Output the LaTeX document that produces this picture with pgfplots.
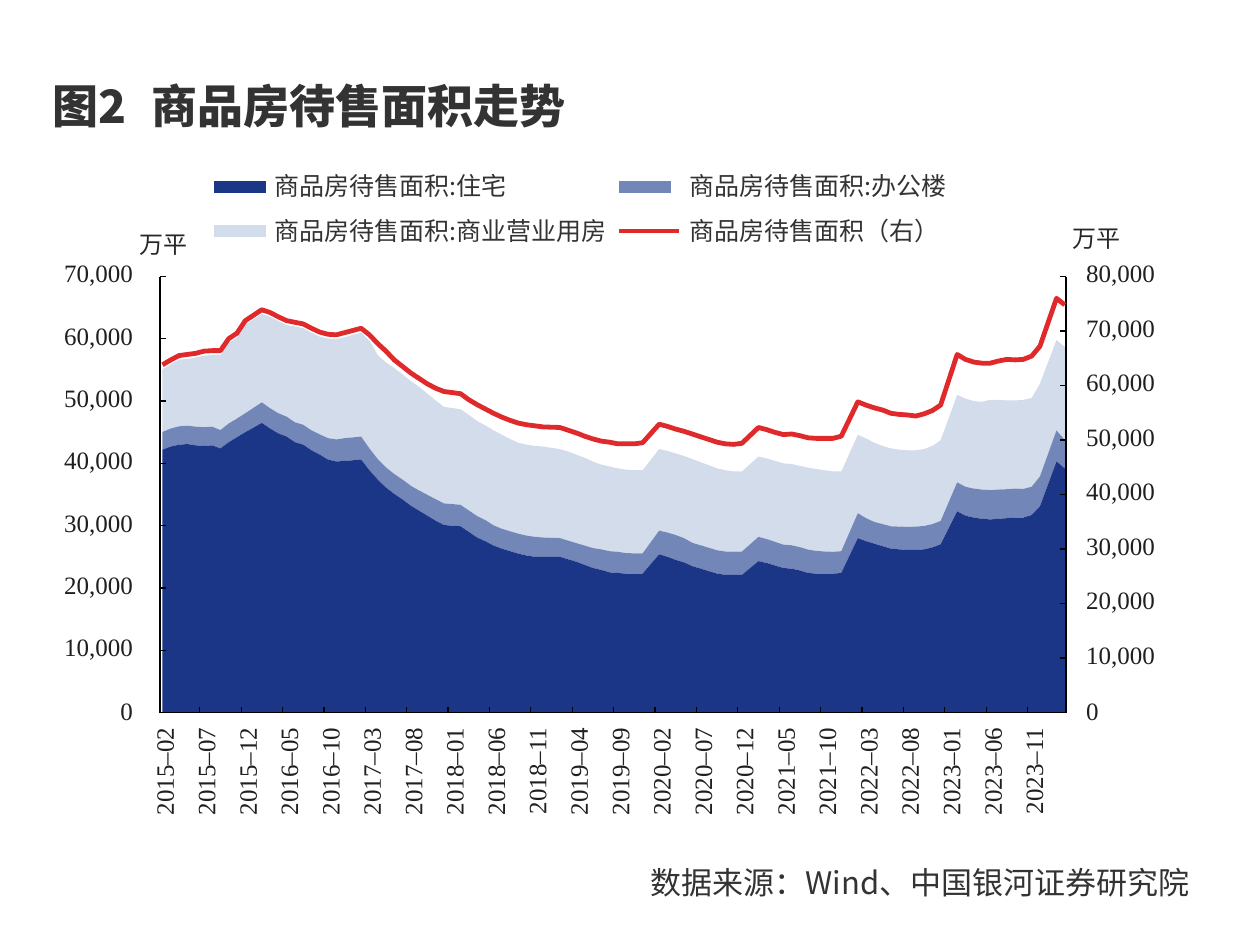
\documentclass[border=0pt]{standalone}
\usepackage{pgfplots}
\pgfplotsset{compat=1.18}
\usepackage{pgfplotstable}
\usepackage{fontspec}
\setmainfont{Liberation Serif}
\newfontfamily\cjk{Noto Sans CJK SC}
\definecolor{cRes}{HTML}{1B3587}
\definecolor{cOff}{HTML}{7286B8}
\definecolor{cCom}{HTML}{D3DCEB}
\definecolor{cTot}{HTML}{E0292A}
\definecolor{txt}{HTML}{333333}

\pgfplotstableread{
m res off com tot
0 42200 2850 10100 63800
1 42700 2900 10300 64700
2 43000 2950 10700 65500
3 43100 2950 10700 65700
4 42900 3000 11100 65900
5 42800 3000 11500 66300
6 42900 3000 11500 66400
7 42400 2950 12050 66400
8 43400 3000 12900 68600
9 44200 3000 13000 69600
10 45000 3050 14200 71900
12 46500 3300 14200 73900
13 45600 3250 14700 73400
14 44800 3250 14800 72600
15 44300 3200 14700 71900
16 43400 3200 15400 71600
17 43000 3200 15500 71300
18 42100 3200 15700 70500
19 41400 3250 15700 69800
20 40600 3450 16000 69400
21 40300 3550 16100 69300
22 40400 3650 16200 69700
24 40600 3700 16700 70500
25 38900 3500 17300 69300
26 37400 3300 16700 67700
27 36100 3250 16850 66300
28 35100 3200 17000 64700
29 34200 3200 16900 63500
30 33200 3200 16800 62300
31 32400 3250 16650 61300
32 31600 3350 16250 60300
33 30800 3450 15850 59500
34 30100 3480 15500 58900
36 29900 3450 15350 58500
37 29000 3450 15350 57400
38 28100 3450 15250 56500
39 27500 3400 15200 55700
40 26800 3250 15250 54900
41 26300 3200 15100 54200
42 25900 3200 14800 53600
43 25500 3200 14600 53100
44 25200 3200 14600 52800
45 25000 3200 14600 52600
46 25000 3100 14600 52400
48 25000 3000 14300 52300
49 24600 3000 14300 51800
50 24200 3000 14200 51300
51 23700 3100 14100 50700
52 23200 3200 13900 50200
53 22900 3300 13600 49800
54 22500 3400 13600 49600
55 22400 3400 13400 49300
56 22300 3300 13400 49300
57 22300 3250 13350 49300
58 22300 3250 13350 49500
60 25400 3800 13100 52900
61 25000 3900 13100 52500
62 24500 4000 13100 52000
63 24100 3900 13200 51600
64 23500 3750 13450 51100
65 23100 3750 13350 50600
66 22700 3750 13250 50100
67 22300 3750 13150 49600
68 22100 3750 13050 49300
69 22100 3750 12850 49200
70 22100 3750 12850 49400
72 24300 3900 12900 52300
73 24000 3850 12950 51900
74 23600 3800 13000 51400
75 23200 3750 13050 51000
76 23100 3750 13050 51100
77 22800 3750 13050 50800
78 22400 3750 13150 50400
79 22300 3650 13150 50300
80 22300 3550 13050 50300
81 22300 3500 12900 50300
82 22400 3500 12800 50700
84 28000 4000 12600 57000
85 27500 3700 12800 56400
86 27100 3500 12700 55900
87 26700 3550 12550 55500
88 26300 3600 12500 54900
89 26200 3650 12350 54700
90 26100 3700 12300 54600
91 26100 3750 12250 54400
92 26200 3750 12350 54800
93 26500 3750 12550 55400
94 27000 3750 12950 56400
96 32300 4650 14050 65700
97 31600 4650 14150 64800
98 31300 4650 14050 64300
99 31100 4700 14100 64100
100 31000 4700 14500 64100
101 31100 4700 14400 64500
102 31200 4650 14250 64800
103 31300 4650 14150 64700
104 31300 4600 14300 64800
105 31700 4550 14250 65400
106 33100 4800 14900 67200
108 40300 5000 14500 76000
109 39200 4550 14950 74800
}\datatab

\pgfplotsset{
  common/.style={
    at={(80pt,-356.25pt)}, anchor=south west,
    scale only axis, width=453pt, height=218pt,
    xmin=-0.3, xmax=109.15, ymin=0,
    major tick length=3pt,
    tick style={black, line width=0.6pt},
    scaled y ticks=false,
    /pgf/number format/1000 sep={,},
    /pgf/number format/assume math mode=true,
    ticklabel style={font=\fontsize{12.5}{14}\selectfont, text=black!88},
  },
  nolinearrows/.style={
    axis line style={-, line width=0.7pt, black},
    every outer x axis line/.append style={-},
    every outer y axis line/.append style={-},
    every inner x axis line/.append style={-},
    every inner y axis line/.append style={-},
    tick align=inside,
  }
}

\begin{document}
\begin{tikzpicture}
\path[use as bounding box] (0pt,0pt) rectangle (622pt,-463pt);

\node[anchor=west, inner sep=0pt, text=txt, font={\cjk\bfseries\fontsize{23}{26}\selectfont}] at (26pt,-53pt) {图2\hspace{0.55em}商品房待售面积走势};

\node[anchor=east, inner sep=0pt, text=txt, font={\cjk\fontsize{15.5}{18}\selectfont}] at (595pt,-441.5pt) {数据来源：Wind、中国银河证券研究院};

\node[inner sep=0pt, text=black!85, font={\cjk\fontsize{12}{14}\selectfont}] at (81.5pt,-122.5pt) {万平};
\node[inner sep=0pt, text=black!85, font={\cjk\fontsize{12}{14}\selectfont}] at (548pt,-119.5pt) {万平};

\begin{axis}[common,
  ymax=70000,
  axis x line=bottom, axis y line=left,
  nolinearrows,
  ytick={0,10000,...,70000},
  yticklabel style={xshift=-10pt},
  xtick={4.5,9.5,14.5,19.5,24.5,29.5,34.5,39.5,44.5,49.5,54.5,59.5,64.5,69.5,74.5,79.5,84.5,89.5,94.5,99.5,104.5},
  xticklabels={},
  extra x ticks={0.4,5.4,10.4,15.4,20.4,25.4,30.4,35.4,40.4,45.4,50.4,55.4,60.4,65.4,70.4,75.4,80.4,85.4,90.4,95.4,100.4,105.4},
  extra x tick labels={2015–02,2015–07,2015–12,2016–05,2016–10,2017–03,2017–08,2018–01,2018–06,2018–11,2019–04,2019–09,2020–02,2020–07,2020–12,2021–05,2021–10,2022–03,2022–08,2023–01,2023–06,2023–11},
  extra x tick style={major tick length=0pt, xticklabel style={rotate=90, anchor=east, inner xsep=7.5pt}},
  stack plots=y,
  axis on top,
  legend columns=2,
  legend style={at={(0.053,1.253)}, anchor=north west, draw=none, fill=none,
    font={\cjk\fontsize{12.5}{14}\selectfont}, text=txt, row sep=6pt,
    cells={anchor=west},
    /tikz/every odd column/.append style={column sep=2pt},
    /tikz/every even column/.append style={column sep=3pt}},
]
\addplot[fill=cRes, draw=none, legend image code/.code={\fill[cRes] (0pt,-3pt) rectangle (26pt,3pt);}] table[x=m, y=res] {\datatab} \closedcycle;
\addplot[fill=cOff, draw=none, legend image code/.code={\fill[cOff] (0pt,-3pt) rectangle (26pt,3pt);}] table[x=m, y=off] {\datatab} \closedcycle;
\addplot[fill=cCom, draw=none, legend image code/.code={\fill[cCom] (0pt,-3pt) rectangle (26pt,3pt);}] table[x=m, y=com] {\datatab} \closedcycle;
\addlegendimage{legend image code/.code={\draw[cTot, line width=2.4pt] (0pt,0pt) -- (30pt,0pt);}}
\legend{商品房待售面积:住宅, 商品房待售面积:办公楼, 商品房待售面积:商业营业用房, 商品房待售面积（右）}
\end{axis}

\begin{axis}[common,
  ymax=80000,
  axis y line=right, axis x line=none,
  nolinearrows,
  ytick={0,10000,...,80000},
  yticklabel style={xshift=6.5pt},
]
\addplot[cTot, line width=2.4pt, line join=round] table[x=m, y=tot] {\datatab};
\end{axis}
\end{tikzpicture}
\end{document}
